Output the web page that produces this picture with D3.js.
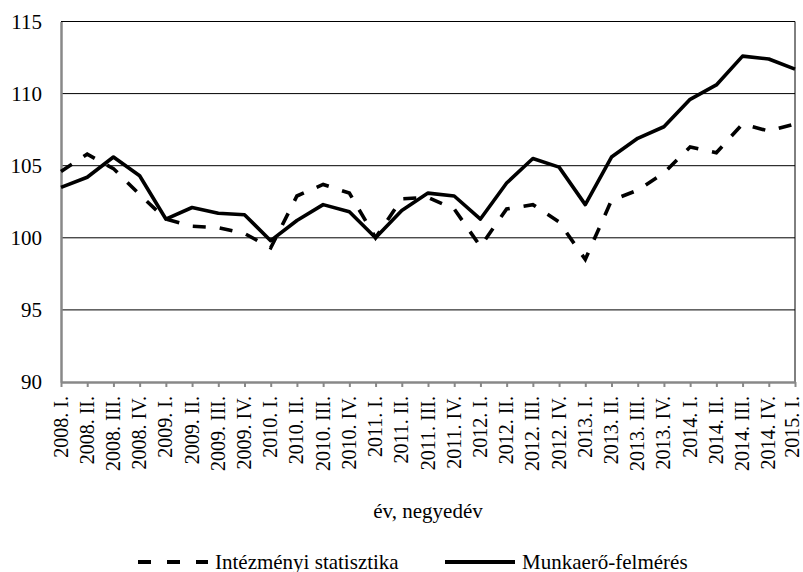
<!DOCTYPE html>
<html lang="hu">
<head>
    <meta charset="UTF-8">
    <title>Létszám</title>
    <style>
        body{margin:0;background:#fff;}
        #main{width:803px;height:572px;}
    </style>
</head>
<body>
<div id="main"></div>
<script src="https://d3js.org/d3.v7.min.js"></script>
<script>
    /* data */
    const years=['2008','2009','2010','2011','2012','2013','2014','2015']
    const quarters=['I.','II.','III.','IV.']
    const categories=[]
    years.forEach(y=>quarters.forEach(q=>categories.push(y+'. '+q)))
    categories.length=29   // 2008. I. .. 2015. I.

    const intezmenyi=[104.6,105.8,104.8,103.0,101.3,100.8,100.7,100.3,99.3,
        102.9,103.7,103.1,100.0,102.7,102.8,102.0,99.4,102.0,102.3,
        101.1,98.5,102.6,103.3,104.5,106.3,105.9,107.9,107.4,107.9]
    const munkaero=[103.5,104.2,105.6,104.3,101.3,102.1,101.7,101.6,99.8,
        101.2,102.3,101.8,100.0,101.9,103.1,102.9,101.3,103.8,105.5,
        104.9,102.3,105.6,106.9,107.7,109.6,110.6,112.6,112.4,111.7]
    const yTicks=[90,95,100,105,110,115]

    const width=803, height=572
    const mLeft=61, mRight=795, mTop=21.5, mBottom=382
    const font='"Liberation Serif","Times New Roman","DejaVu Serif","Noto Serif",serif'

    const svg=d3.select('#main').append('svg')
        .attr('width',width).attr('height',height)
        .attr('font-family',font)
        .style('font-family',font)

    const x=d3.scalePoint().domain(categories).range([mLeft,mRight])
    const y=d3.scaleLinear().domain([90,115]).range([mBottom,mTop])

    // grid lines
    svg.append('g').selectAll('line').data(yTicks.slice(1)).join('line')
        .attr('x1',mLeft).attr('x2',mRight)
        .attr('y1',d=>y(d)).attr('y2',d=>y(d))
        .attr('stroke','#000').attr('stroke-width',1)
    // right border
    svg.append('line').attr('x1',mRight).attr('x2',mRight)
        .attr('y1',mTop).attr('y2',mBottom)
        .attr('stroke','#000').attr('stroke-width',1)

    // y axis
    const yAxis=svg.append('g').attr('transform',`translate(${mLeft},0)`)
        .call(d3.axisLeft(y).tickValues(yTicks).tickSize(0).tickPadding(19))
        .attr('font-family',null).attr('font-size',null)
    yAxis.select('.domain').attr('stroke','#888').attr('stroke-width',2.5)
    yAxis.selectAll('text').style('font-size','21px').style('font-family',font)
        .attr('fill','#000')

    // x axis
    const xAxis=svg.append('g').attr('transform',`translate(0,${mBottom})`)
        .call(d3.axisBottom(x).tickSize(5).tickSizeOuter(0))
        .attr('font-family',null).attr('font-size',null)
    xAxis.select('.domain').attr('stroke','#888').attr('stroke-width',2.5)
    xAxis.selectAll('.tick line').attr('stroke','#888').attr('stroke-width',2)
    xAxis.selectAll('text')
        .style('font-size','20px').style('font-family',font).attr('fill','#000')
        .attr('transform','rotate(-90)')
        .attr('text-anchor','end')
        .attr('x',-14).attr('y',0)
        // last label sits at the right edge, pull it in a little
        .attr('dy',(d,i)=>i===categories.length-1?'0.15em':'0.3em')

    // lines
    const line=d3.line().x((d,i)=>x(categories[i])).y(d=>y(d))
    svg.append('path').datum(intezmenyi).attr('d',line)
        .attr('fill','none').attr('stroke','#000').attr('stroke-width',3.6)
        .attr('stroke-dasharray','13,14')
    svg.append('path').datum(munkaero).attr('d',line)
        .attr('fill','none').attr('stroke','#000').attr('stroke-width',3.6)
        .attr('stroke-linejoin','round')

    // x axis title
    svg.append('text').attr('x',(mLeft+mRight)/2).attr('y',518).attr('text-anchor','middle')
        .style('font-size','21px').style('font-family',font).text('év, negyedév')

    // legend
    const legend=[
        {name:'Intézményi statisztika',dash:'13,16',x:138},
        {name:'Munkaerő-felmérés',dash:null,x:445}
    ]
    const lg=svg.append('g').selectAll('g').data(legend).join('g')
        .attr('transform',d=>`translate(${d.x},562)`)
    lg.append('line').attr('x1',0).attr('x2',70).attr('y1',0).attr('y2',0)
        .attr('stroke','#000').attr('stroke-width',4)
        .attr('stroke-dasharray',d=>d.dash)
    lg.append('text').attr('x',77).attr('y',6.5)
        .style('font-size','21px').style('font-family',font).text(d=>d.name)
</script>
</body>
</html>
